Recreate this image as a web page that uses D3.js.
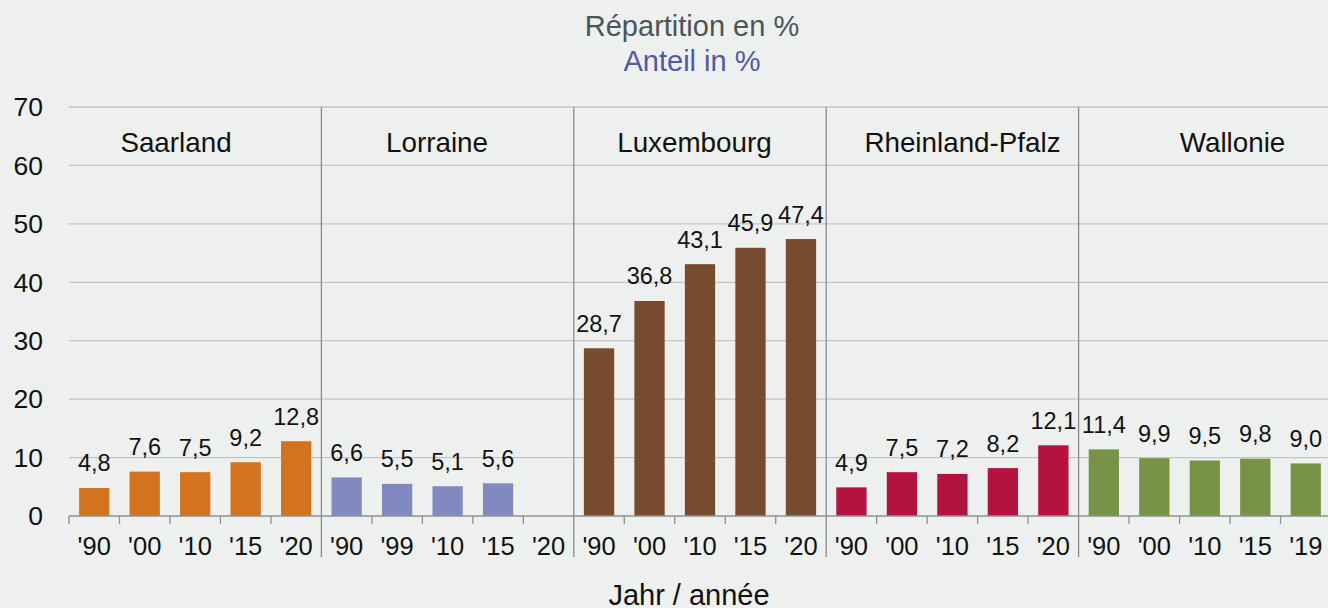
<!DOCTYPE html>
<html>
<head>
<meta charset="utf-8">
<script src="https://cdn.jsdelivr.net/npm/d3@7"></script>
<style>
  body { margin: 0; background: #eef0ef; }
  svg { display: block; font-family: "Liberation Sans", Arial, sans-serif; }
</style>
</head>
<body>
<div id="chart"></div>
<script>
// Data
const regions = ['Saarland', 'Lorraine', 'Luxembourg', 'Rheinland-Pfalz', 'Wallonie']
const years = [
  ["'90", "'00", "'10", "'15", "'20"],
  ["'90", "'99", "'10", "'15", "'20"],
  ["'90", "'00", "'10", "'15", "'20"],
  ["'90", "'00", "'10", "'15", "'20"],
  ["'90", "'00", "'10", "'15", "'19"]
]
const values = [
  [4.8, 7.6, 7.5, 9.2, 12.8],
  [6.6, 5.5, 5.1, 5.6, null],
  [28.7, 36.8, 43.1, 45.9, 47.4],
  [4.9, 7.5, 7.2, 8.2, 12.1],
  [11.4, 9.9, 9.5, 9.8, 9.0]
]
const colors = ['#d4731f', '#8189c1', '#774b2e', '#b5133f', '#779446']
const yTicks = [0, 10, 20, 30, 40, 50, 60, 70]

// Region label placement (in band units from the left)
const labelPos = [2.12, 7.29, 12.39, 17.7, 23.05]

const width = 1328
const height = 608
const margin = { top: 107, right: -3, bottom: 92, left: 69 }

const rows = []
regions.forEach((r, i) => {
  years[i].forEach((y, j) => {
    rows.push({ key: r + j, region: i, year: y, value: values[i][j] })
  })
})

const svg = d3.select('#chart')
  .append('svg')
  .attr('width', width)
  .attr('height', height)

svg.append('rect')
  .attr('width', width)
  .attr('height', height)
  .attr('fill', '#eef0ef')

const x = d3.scaleBand()
  .domain(rows.map(d => d.key))
  .range([margin.left, width - margin.right])
  .paddingInner(0.4)
  .paddingOuter(0.2)

const step = x.step()
const x0 = margin.left

const y = d3.scaleLinear()
  .domain([0, 70])
  .range([height - margin.bottom, margin.top])

// Gridlines
svg.append('g')
  .selectAll('line')
  .data(yTicks.filter(d => d > 0))
  .enter().append('line')
  .attr('x1', x0)
  .attr('x2', width)
  .attr('y1', d => y(d))
  .attr('y2', d => y(d))
  .attr('stroke', '#c3c5c4')
  .attr('stroke-width', 1.3)

// Y axis labels
svg.append('g')
  .selectAll('text')
  .data(yTicks)
  .enter().append('text')
  .attr('x', 43)
  .attr('y', d => y(d))
  .attr('dy', '0.35em')
  .attr('text-anchor', 'end')
  .attr('font-size', 26.5)
  .attr('fill', '#111')
  .text(d => d)

// Bars
svg.append('g')
  .selectAll('rect')
  .data(rows.filter(d => d.value != null))
  .enter().append('rect')
  .attr('x', d => x(d.key))
  .attr('width', x.bandwidth())
  .attr('y', d => y(d.value))
  .attr('height', d => y(0) - y(d.value))
  .attr('fill', d => colors[d.region])

// Value labels
svg.append('g')
  .selectAll('text')
  .data(rows.filter(d => d.value != null))
  .enter().append('text')
  .attr('x', d => x(d.key) + x.bandwidth() / 2)
  .attr('y', d => y(d.value) - 16.5)
  .attr('text-anchor', 'middle')
  .attr('font-size', 23.5)
  .attr('fill', '#111')
  .text(d => d3.format('.1f')(d.value).replace('.', ','))

// X axis baseline and ticks
svg.append('line')
  .attr('x1', x0)
  .attr('x2', width)
  .attr('y1', y(0))
  .attr('y2', y(0))
  .attr('stroke', '#8f9190')
  .attr('stroke-width', 1.3)

svg.append('g')
  .selectAll('line')
  .data(d3.range(rows.length + 1).filter(i => i % 5 !== 0))
  .enter().append('line')
  .attr('x1', i => x0 + i * step)
  .attr('x2', i => x0 + i * step)
  .attr('y1', y(0))
  .attr('y2', y(0) + 8)
  .attr('stroke', '#8f9190')
  .attr('stroke-width', 1.3)

// Region separators
svg.append('g')
  .selectAll('line')
  .data(d3.range(0, rows.length + 1, 5))
  .enter().append('line')
  .attr('x1', i => x0 + i * step)
  .attr('x2', i => x0 + i * step)
  .attr('y1', i => i === 0 ? y(0) : y(70))
  .attr('y2', i => i === 0 ? y(0) + 8 : 557)
  .attr('stroke', '#8a8c8b')
  .attr('stroke-width', 1.3)

// Year labels
svg.append('g')
  .selectAll('text')
  .data(rows)
  .enter().append('text')
  .attr('x', d => x(d.key) + x.bandwidth() / 2)
  .attr('y', 555)
  .attr('text-anchor', 'middle')
  .attr('font-size', 25.5)
  .attr('fill', '#111')
  .text(d => d.year)

// Region labels
svg.append('g')
  .selectAll('text')
  .data(regions)
  .enter().append('text')
  .attr('x', (d, i) => x0 + labelPos[i] * step)
  .attr('y', 152)
  .attr('text-anchor', 'middle')
  .attr('font-size', 27.8)
  .attr('fill', '#111')
  .text(d => d)

// Titles
svg.append('text')
  .attr('x', 692)
  .attr('y', 35.5)
  .attr('text-anchor', 'middle')
  .attr('font-size', 29)
  .attr('fill', '#4b5559')
  .text('Répartition en %')

svg.append('text')
  .attr('x', 692)
  .attr('y', 71)
  .attr('text-anchor', 'middle')
  .attr('font-size', 29)
  .attr('fill', '#5158aa')
  .text('Anteil in %')

// Axis title
svg.append('text')
  .attr('x', 689)
  .attr('y', 605)
  .attr('text-anchor', 'middle')
  .attr('font-size', 29)
  .attr('fill', '#111')
  .text('Jahr / année')
</script>
</body>
</html>
